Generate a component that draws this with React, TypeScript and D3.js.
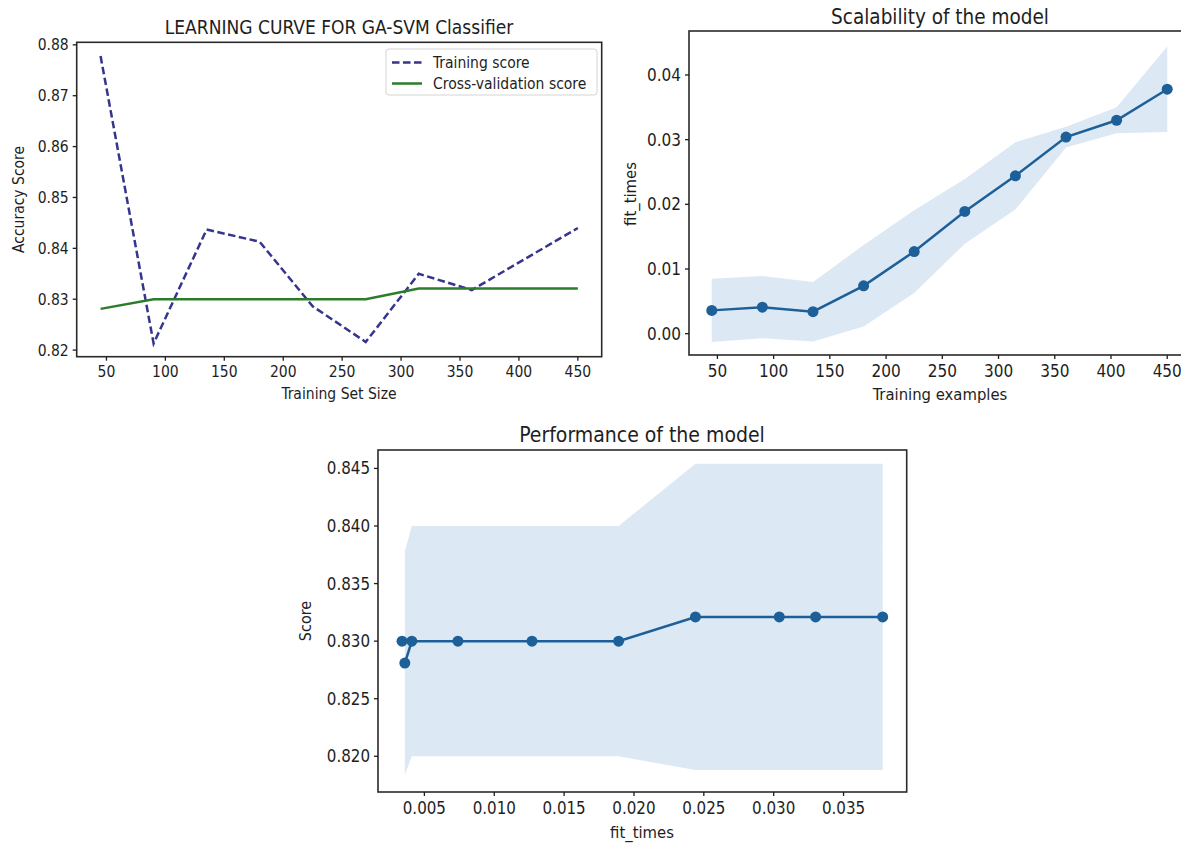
import React from "react";
import * as d3 from "d3";

// learning curve data
const trainSizes = [45, 90, 135, 180, 225, 270, 315, 360, 405, 450];
const trainScores = [0.8778, 0.8213, 0.8437, 0.8413, 0.8286, 0.8216, 0.835, 0.8318, 0.8379, 0.844];
const cvScores = [0.8281, 0.83, 0.83, 0.83, 0.83, 0.83, 0.8321, 0.8321, 0.8321, 0.8321];
const cvScoresStd = [0.0097, 0.01, 0.01, 0.01, 0.01, 0.01, 0.0133, 0.0133, 0.0133, 0.0133];
const fitTimesMean = [0.0036, 0.0041, 0.0034, 0.0074, 0.0127, 0.0189, 0.0244, 0.0304, 0.033, 0.0378];
const fitTimesStd = [0.0049, 0.0048, 0.0046, 0.0063, 0.0064, 0.005, 0.0052, 0.0016, 0.002, 0.0066];

// tick labels
const sizeTicks = [50, 100, 150, 200, 250, 300, 350, 400, 450];
const accTicks = [0.82, 0.83, 0.84, 0.85, 0.86, 0.87, 0.88];
const fitTicks = [0, 0.01, 0.02, 0.03, 0.04];
const perfXTicks = [0.005, 0.01, 0.015, 0.02, 0.025, 0.03, 0.035];
const perfYTicks = [0.82, 0.825, 0.83, 0.835, 0.84, 0.845];

const FONT = "'DejaVu Sans Condensed', 'DejaVu Sans', sans-serif";
const INK = "#1e1e1e";
const BLUE = "#1d5f98";
const BAND = "#dce9f5";

type Lin = d3.ScaleLinear<number, number>;

function XAxis({ scale, y, ticks, fmt, size }: { scale: Lin; y: number; ticks: number[]; fmt: (n: number) => string; size: number }) {
	return (
		<g>
			{ticks.map((t) => (
				<g key={t}>
					<line x1={scale(t)} x2={scale(t)} y1={y} y2={y + 4} stroke={INK} strokeWidth={1.3} />
					<text x={scale(t)} y={y + 4 + size * 1.05} textAnchor="middle" fontSize={size} fill={INK}>
						{fmt(t)}
					</text>
				</g>
			))}
		</g>
	);
}

function YAxis({ scale, x, ticks, fmt, size }: { scale: Lin; x: number; ticks: number[]; fmt: (n: number) => string; size: number }) {
	return (
		<g>
			{ticks.map((t) => (
				<g key={t}>
					<line x1={x - 4} x2={x} y1={scale(t)} y2={scale(t)} stroke={INK} strokeWidth={1.3} />
					<text x={x - 8} y={scale(t)} dy="0.36em" textAnchor="end" fontSize={size} fill={INK}>
						{fmt(t)}
					</text>
				</g>
			))}
		</g>
	);
}

function Frame({ x, y }: { x: Lin; y: Lin }) {
	const [x0, x1] = x.range();
	const [y0, y1] = y.range();
	return (
		<rect x={x0} y={y1} width={x1 - x0} height={y0 - y1} fill="none" stroke="#2a2a2a" strokeWidth={1.6} />
	);
}

const App = () => {
	const f2 = d3.format(".2f");
	const f3 = d3.format(".3f");

	// panel 1 - learning curve
	const x1 = d3.scaleLinear().domain([24.75, 470.25]).range([76.7, 601.7]);
	const y1 = d3.scaleLinear().domain([0.8187, 0.8805]).range([356.7, 42.3]);
	const line1 = d3
		.line<number>()
		.x((_, i) => x1(trainSizes[i]))
		.y((d) => y1(d));

	// panel 2 - scalability
	const x2 = d3.scaleLinear().domain([24.75, 470.25]).range([689, 1190]);
	const y2 = d3.scaleLinear().domain([-0.0033, 0.0468]).range([355, 31]);
	const band2 = d3
		.area<number>()
		.x((_, i) => x2(trainSizes[i]))
		.y0((d, i) => y2(d - fitTimesStd[i]))
		.y1((d, i) => y2(d + fitTimesStd[i]));
	const line2 = d3
		.line<number>()
		.x((_, i) => x2(trainSizes[i]))
		.y((d) => y2(d));

	// panel 3 - performance
	const x3 = d3.scaleLinear().domain([0.00168, 0.03952]).range([378, 906.7]);
	const y3 = d3.scaleLinear().domain([0.8169, 0.8466]).range([792, 450]);
	const band3 = d3
		.area<number>()
		.x((_, i) => x3(fitTimesMean[i]))
		.y0((d, i) => y3(d - cvScoresStd[i]))
		.y1((d, i) => y3(d + cvScoresStd[i]));
	const line3 = d3
		.line<number>()
		.x((_, i) => x3(fitTimesMean[i]))
		.y((d) => y3(d));

	return (
		<svg
			width={1181}
			height={846}
			style={{ position: "absolute", left: 0, top: 0, background: "#fff", fontFamily: FONT, fontStretch: "condensed" }}
		>
			{/* learning curve */}
			<text x={339} y={34} textAnchor="middle" fontSize={19} fill={INK}>
				LEARNING CURVE FOR GA-SVM Classifier
			</text>
			<path d={line1(trainScores) ?? ""} fill="none" stroke="#35358e" strokeWidth={2.5} strokeDasharray="7.5,3.5" />
			<path d={line1(cvScores) ?? ""} fill="none" stroke="#2b7d2b" strokeWidth={2.5} />
			<Frame x={x1} y={y1} />
			<XAxis scale={x1} y={356.7} ticks={sizeTicks} fmt={String} size={15.5} />
			<YAxis scale={y1} x={76.7} ticks={accTicks} fmt={f2} size={15.5} />
			<text x={339} y={399} textAnchor="middle" fontSize={15.5} fill={INK}>
				Training Set Size
			</text>
			<text transform="translate(19,199.5) rotate(-90)" dy="0.35em" textAnchor="middle" fontSize={15.5} fill={INK}>
				Accuracy Score
			</text>
			<g>
				<rect x={386} y={49} width={211} height={46} rx={3} fill="#fff" fillOpacity={0.85} stroke="#d4d4d4" />
				<line x1={392} x2={422} y1={62.5} y2={62.5} stroke="#35358e" strokeWidth={2.5} strokeDasharray="7.5,3.5" />
				<text x={433} y={62.5} dy="0.36em" fontSize={15.5} fill={INK}>
					Training score
				</text>
				<line x1={392} x2={422} y1={83.5} y2={83.5} stroke="#2b7d2b" strokeWidth={2.5} />
				<text x={433} y={83.5} dy="0.36em" fontSize={15.5} fill={INK}>
					Cross-validation score
				</text>
			</g>

			{/* scalability */}
			<text x={940} y={24} textAnchor="middle" fontSize={20.5} fill={INK}>
				Scalability of the model
			</text>
			<path d={band2(fitTimesMean) ?? ""} fill={BAND} />
			<path d={line2(fitTimesMean) ?? ""} fill="none" stroke={BLUE} strokeWidth={2.5} />
			{fitTimesMean.map((d, i) => (
				<circle key={i} cx={x2(trainSizes[i])} cy={y2(d)} r={5.5} fill={BLUE} />
			))}
			<Frame x={x2} y={y2} />
			<XAxis scale={x2} y={355} ticks={sizeTicks} fmt={String} size={17} />
			<YAxis scale={y2} x={689} ticks={fitTicks} fmt={f2} size={17} />
			<text x={940} y={400} textAnchor="middle" fontSize={16.5} fill={INK}>
				Training examples
			</text>
			<text transform="translate(630,194) rotate(-90)" dy="0.35em" textAnchor="middle" fontSize={16.5} fill={INK}>
				fit_times
			</text>

			{/* performance */}
			<text x={642} y={442} textAnchor="middle" fontSize={21} fill={INK}>
				Performance of the model
			</text>
			<path d={band3(cvScores) ?? ""} fill={BAND} />
			<path d={line3(cvScores) ?? ""} fill="none" stroke={BLUE} strokeWidth={2.5} />
			{cvScores.map((d, i) => (
				<circle key={i} cx={x3(fitTimesMean[i])} cy={y3(d)} r={5.5} fill={BLUE} />
			))}
			<Frame x={x3} y={y3} />
			<XAxis scale={x3} y={792} ticks={perfXTicks} fmt={f3} size={16.8} />
			<YAxis scale={y3} x={378} ticks={perfYTicks} fmt={f3} size={16.8} />
			<text x={642} y={838} textAnchor="middle" fontSize={16.5} fill={INK}>
				fit_times
			</text>
			<text transform="translate(305,621) rotate(-90)" dy="0.35em" textAnchor="middle" fontSize={16} fill={INK}>
				Score
			</text>
		</svg>
	);
};

export default App;
